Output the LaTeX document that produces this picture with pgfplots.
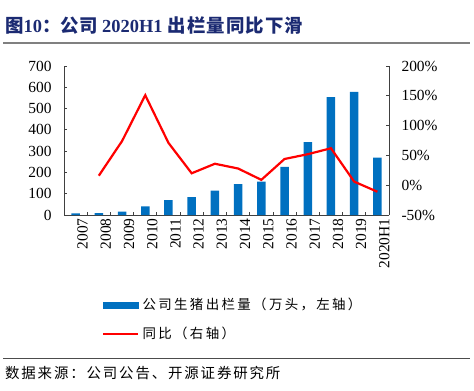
\documentclass[border=0pt]{standalone}
\usepackage{pgfplots}
\pgfplotsset{compat=1.18}
\usepackage{fontspec}
\setmainfont{Liberation Serif}
\newfontfamily\cjk{Noto Sans CJK SC}
\definecolor{barblue}{HTML}{0070C0}
\definecolor{titleblue}{HTML}{1B2A72}
\definecolor{axgray}{HTML}{404040}
\newdimen\pitch
\newcommand\spaced[2]{\pitch=#1\relax\spacedloop#2\relax}
\def\spacedloop#1{\ifx#1\relax\else\makebox[\pitch][c]{#1}\expandafter\spacedloop\fi}
\pgfplotsset{
  barleg/.style={legend image code/.code={\fill[barblue] (0bp,-2.8bp) rectangle (35bp,2.8bp);}},
  lineleg/.style={legend image code/.code={\draw[##1] (0bp,0bp) -- (35bp,0bp);}},
}
\begin{document}
\begin{tikzpicture}[x=1bp,y=1bp]
\useasboundingbox (0,0) rectangle (474,390);
\node[anchor=base west, inner sep=0, text=titleblue, font=\fontsize{18.5}{20}\selectfont\bfseries] at (5,358) {{\cjk\spaced{18.5bp}{图}}10{\cjk\spaced{18.5bp}{：公司}} 2020H1 {\cjk\spaced{19.5bp}{出栏量同比下滑}}};
\draw[gray, line width=2bp] (3,347) -- (470,347);
\draw[black!70, line width=0.8bp] (3,32) -- (470,32);
\node[anchor=base west, inner sep=0, font=\fontsize{14.5}{16}\selectfont\cjk] at (4,12) {\spaced{16.3bp}{数据来源：公司公告、开源证券研究所}};
\begin{axis}[at={(64bp,175bp)}, anchor=south west, scale only axis,
  width=325bp, height=149bp,
  xmin=-0.5, xmax=13.5, ymin=0, ymax=700,
  ytick={0,100,...,700},
  xtick={0,...,13},
  xticklabels={2007,2008,2009,2010,2011,2012,2013,2014,2015,2016,2017,2018,2019,2020H1},
  minor xtick={0.5,1.5,...,12.5},
  major x tick style={draw=none},
  tick align=inside,
  major tick length=3bp, minor tick length=3bp,
  axis x line*=bottom, axis y line*=left,
  axis line style={-, draw=axgray, line width=0.8bp},
  tick style={draw=axgray, line width=0.8bp},
  /pgf/number format/assume math mode=true,
  tick label style={font=\fontsize{15.5}{17}\selectfont},
  x tick label style={rotate=90, anchor=east, yshift=-7bp},
  y tick label style={xshift=-9bp},
  ]
\addplot[ybar, bar width=8.5bp, fill=barblue, draw=none] coordinates {
(0,8) (1,9.4) (2,16.4) (3,41) (4,70) (5,84) (6,114) (7,145) (8,157) (9,226) (10,342) (11,554) (12,578) (13,269)};
\end{axis}
\begin{axis}[at={(64bp,175bp)}, anchor=south west, scale only axis,
  width=325bp, height=149bp,
  xmin=-0.5, xmax=13.5, ymin=-50, ymax=200,
  ytick={-50,0,...,200},
  yticklabel={\pgfmathprintnumber{\tick}\%},
  axis y line*=right, axis x line=none,
  tick align=inside, major tick length=3bp,
  axis line style={-, draw=axgray, line width=0.8bp},
  tick style={draw=axgray, line width=0.8bp},
  /pgf/number format/assume math mode=true,
  tick label style={font=\fontsize{15.5}{17}\selectfont},
  y tick label style={xshift=9bp},
  legend style={at={(0.117,-0.545)}, anchor=north west, draw=none, fill=none, inner sep=0pt,
    font=\fontsize{13.5}{15}\selectfont\cjk, row sep=12bp},
  legend cell align=left,
  ]
\addlegendimage{barleg}
\addlegendentry{\spaced{15.8bp}{公司生猪出栏量（万头，左轴）}}
\addplot[red, line width=2.2bp, lineleg] coordinates {
(1,16) (2,74) (3,151) (4,71) (5,20) (6,36) (7,28) (8,9) (9,44) (10,52) (11,62) (12,6) (13,-11)};
\addlegendentry{\spaced{15.8bp}{同比（右轴）}}
\end{axis}
\end{tikzpicture}
\end{document}
